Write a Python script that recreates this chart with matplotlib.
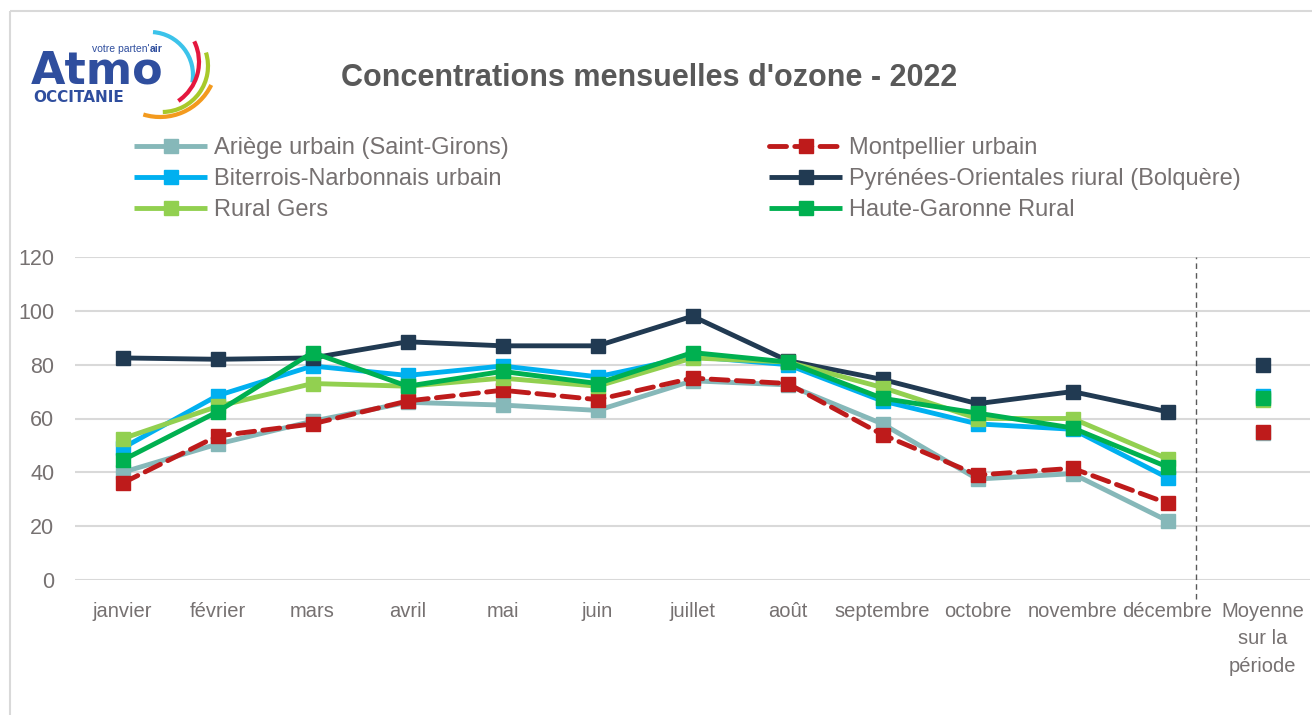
import numpy as np
import matplotlib.pyplot as plt
from matplotlib.patches import Arc, Rectangle

# monthly ozone values
mois = ['janvier', 'février', 'mars', 'avril', 'mai', 'juin', 'juillet',
        'août', 'septembre', 'octobre', 'novembre', 'décembre']
label_moyenne = 'Moyenne\nsur la\npériode'

ariege = [40, 50.5, 59, 66, 65, 63, 74, 72.5, 58, 37.5, 39.5, 22]
montpellier = [36, 53.5, 58, 66.5, 70.5, 67, 75, 73, 54, 39, 41.5, 28.5]
biterrois = [49, 68.5, 79.5, 76, 79.5, 75.5, 83, 80, 66.5, 58, 56, 38]
pyrenees = [82.5, 82, 82.5, 88.5, 87, 87, 98, 81.5, 74.5, 65.5, 70, 62.5]
gers = [52.5, 64.5, 73, 72, 75, 72, 82.5, 81, 71.5, 60, 60, 45]
hgaronne = [44.5, 62.5, 84.5, 72, 77.5, 73, 84.5, 81, 67.5, 62, 56.5, 42]

moy_ariege = 54.5
moy_montpellier = 55
moy_biterrois = 68.5
moy_pyrenees = 80
moy_gers = 67
moy_hgaronne = 67.5

noms = ['Ariège urbain (Saint-Girons)', 'Montpellier urbain',
        'Biterrois-Narbonnais urbain', 'Pyrénées-Orientales riural (Bolquère)',
        'Rural Gers', 'Haute-Garonne Rural']
couleurs = ['#86B8B9', '#BE1B1B', '#00B0F0', '#213A52', '#92D050', '#00B050']
series = [ariege, montpellier, biterrois, pyrenees, gers, hgaronne]
moyennes = [moy_ariege, moy_montpellier, moy_biterrois, moy_pyrenees, moy_gers, moy_hgaronne]

txt_gris = '#767171'
plt.rcParams['font.family'] = ['Liberation Sans', 'DejaVu Sans']

W, H = 1312, 715
fig = plt.figure(figsize=(W / 100, H / 100), dpi=100)

# decoration layer in pixel coords (border + logo)
deco = fig.add_axes([0, 0, 1, 1])
deco.set_xlim(0, W)
deco.set_ylim(H, 0)
deco.axis('off')
deco.add_patch(Rectangle((10, 11), 1400, 800, fill=False, ec='#D9D9D9', lw=1.5))

bleu = '#2F4E9E'
deco.text(31, 83, 'Atmo', color=bleu, fontsize=32, fontweight='bold',
          family='DejaVu Sans', va='baseline')
deco.text(92, 52, "votre parten'", color=bleu, fontsize=7.5, va='baseline')
deco.text(150, 52, "air", color=bleu, fontsize=7.5, fontweight='bold', va='baseline')
deco.text(33, 102, 'OCCITANIE', color=bleu, fontsize=11, fontweight='bold',
          family='DejaVu Sans', va='baseline')
# arcs: (cx, cy, r, start, end, colour) -- y axis is inverted so angles flip
for cx, cy, r, a1, a2, c in [(150, 75, 43, -86, 10, '#3CC3EA'),
                             (152, 62, 47, -26, 56, '#E4173E'),
                             (162, 66, 46, -17, 89, '#A8C92A'),
                             (160, 60, 57, 26, 107, '#F39A1E')]:
    deco.add_patch(Arc((cx, cy), 2 * r, 2 * r, theta1=a1, theta2=a2, color=c, lw=3))

fig.text(0.495, 1 - 78 / H, "Concentrations mensuelles d'ozone - 2022",
         ha='center', va='center', fontsize=22, fontweight='bold', color='#595959')

# main chart
ax = fig.add_axes([75 / W, 1 - 580 / H, 1235 / W, 323 / H])
ax.set_facecolor('none')
x = np.arange(len(mois))
handles = []
for nom, c, s, m in zip(noms, couleurs, series, moyennes):
    kw = dict(color=c, lw=3.5, marker='s', ms=10.5, solid_capstyle='butt')
    if nom.startswith('Montpellier'):
        kw.update(ls='--', dashes=(3.5, 1.7), dash_capstyle='round')
    h, = ax.plot(x, s, label=nom, **kw)
    ax.plot([len(mois)], [m], ls='none', marker='s', ms=10.5, color=c)
    handles.append(h)

ax.plot([11.3, 11.3], [-7, 120], color='#595959', lw=1, ls=(0, (4, 3)), clip_on=False)

ax.set_xlim(-0.5, 12.5)
ax.set_ylim(0, 120)
ax.set_yticks(range(0, 121, 20))
ax.set_xticks(list(x) + [len(mois)])
ax.set_xticklabels(mois + [label_moyenne], linespacing=1.55)
ax.yaxis.grid(True, color='#D9D9D9', lw=1.5)
ax.set_axisbelow(True)
for sp in ax.spines.values():
    sp.set_visible(False)
ax.tick_params(axis='both', length=0, labelsize=14.5, labelcolor=txt_gris)
ax.tick_params(axis='x', pad=16)
ax.tick_params(axis='y', labelsize=15.5, pad=15)

leg_kw = dict(frameon=False, fontsize=17, handlelength=3.1, handletextpad=0.3,
              labelspacing=0.38, borderpad=0, borderaxespad=0, labelcolor=txt_gris,
              loc='upper left')
fig.legend([handles[0], handles[2], handles[4]], [noms[0], noms[2], noms[4]],
           bbox_to_anchor=(134 / W, 1 - 137 / H), **leg_kw)
fig.legend([handles[1], handles[3], handles[5]], [noms[1], noms[3], noms[5]],
           bbox_to_anchor=(769 / W, 1 - 137 / H), **leg_kw)

fig.savefig('out.png', dpi=100)
